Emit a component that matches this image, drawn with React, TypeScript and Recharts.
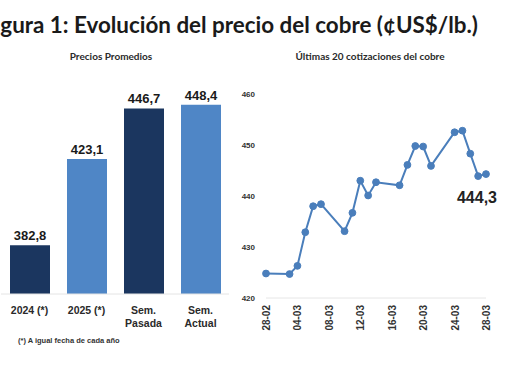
import React from "react";
import {
  BarChart,
  Bar,
  XAxis,
  YAxis,
  LabelList,
  Cell,
  LineChart,
  Line,
} from "recharts";

// ---- Data ----
const barCategories = ["2024 (*)", "2025 (*)", "Sem.\nPasada", "Sem.\nActual"];
const barValues = [382.8, 423.1, 446.7, 448.4];
const barColors = ["#1b365f", "#4f86c6", "#1b365f", "#4f86c6"];

const quoteDates = [
  "28-02", "03-03", "04-03", "05-03", "06-03", "07-03",
  "10-03", "11-03", "12-03", "13-03", "14-03",
  "17-03", "18-03", "19-03", "20-03", "21-03",
  "24-03", "25-03", "26-03", "27-03", "28-03",
];
const quoteValues = [
  424.8, 424.7, 426.3, 432.9, 438.0, 438.4,
  433.1, 436.7, 443.0, 440.1, 442.7,
  442.1, 446.1, 449.8, 449.7, 445.9,
  452.5, 452.8, 448.3, 443.9, 444.3,
];
const dateTickLabels = ["28-02", "04-03", "08-03", "12-03", "16-03", "20-03", "24-03", "28-03"];
const lineYTicks = [420, 430, 440, 450, 460];

// ---- helpers ----
const YEAR = 2025;
const dayOf = (s: string) => {
  const [d, m] = s.split("-").map(Number);
  return Date.UTC(YEAR, m - 1, d) / 86400000;
};
const day0 = dayOf(quoteDates[0]);

const barData = barCategories.map((c, i) => ({ name: c, value: barValues[i] }));
const lineData = quoteDates.map((d, i) => ({ x: dayOf(d) - day0, label: d, value: quoteValues[i] }));
const dateTicks = dateTickLabels.map((d) => dayOf(d) - day0);

const fmt = (v: number) => v.toFixed(1).replace(".", ",");

const NUM_FONT = "'Liberation Sans', Arial, sans-serif";
const TXT_FONT = "Lato, 'Open Sans', sans-serif";

const BarTick = (props: any) => {
  const { x, y, payload } = props;
  const lines = String(payload.value).split("\n");
  return (
    <text x={x} y={y} textAnchor="middle" fontFamily={NUM_FONT} fontWeight={700} fontSize={10.5} fill="#2a2a2a">
      {lines.map((l, i) => (
        <tspan key={i} x={x} dy={i === 0 ? 20 : 13}>
          {l}
        </tspan>
      ))}
    </text>
  );
};

const DateTick = (props: any) => {
  const { x, y, payload } = props;
  const idx = dateTicks.indexOf(payload.value);
  const label = idx >= 0 ? dateTickLabels[idx] : "";
  return (
    <text
      x={x + 4}
      y={y + 7}
      transform={`rotate(-90 ${x + 4} ${y + 7})`}
      textAnchor="end"
      fontFamily={NUM_FONT}
      fontWeight={700}
      fontSize={10}
      fill="#333"
    >
      {label}
    </text>
  );
};

const LastLabel = (props: any) => {
  const { x, y, index, value } = props;
  if (index !== quoteValues.length - 1) return null;
  return (
    <text x={x + 11} y={y + 29} textAnchor="end" fontFamily={NUM_FONT} fontWeight={700} fontSize={16} fill="#222">
      {fmt(value)}
    </text>
  );
};

export default function App() {
  return (
    <div
      style={{
        position: "fixed",
        left: 0,
        top: 0,
        width: 510,
        height: 382,
        background: "#fff",
        overflow: "hidden",
      }}
    >
      <div
        style={{
          position: "absolute",
          right: 32,
          top: 10,
          whiteSpace: "nowrap",
          fontFamily: TXT_FONT,
          fontWeight: 700,
          fontSize: 22.4,
          color: "#1a1a1a",
          lineHeight: "30px",
        }}
      >
        Figura 1: Evolución del precio del cobre (¢US$/lb.)
      </div>
      <div
        style={{
          position: "absolute",
          left: 0,
          width: 222,
          top: 50,
          textAlign: "center",
          fontFamily: TXT_FONT,
          fontWeight: 700,
          fontSize: 10,
          color: "#2a2a2a",
        }}
      >
        Precios Promedios
      </div>
      <div
        style={{
          position: "absolute",
          left: 270,
          width: 200,
          top: 50,
          textAlign: "center",
          fontFamily: TXT_FONT,
          fontWeight: 700,
          fontSize: 10,
          color: "#2a2a2a",
        }}
      >
        Últimas 20 cotizaciones del cobre
      </div>

      <div style={{ position: "absolute", left: 0, top: 0 }}>
        <BarChart
          width={230}
          height={360}
          data={barData}
          margin={{ top: 80, right: 1, left: 1, bottom: 0 }}
        >
          <XAxis
            dataKey="name"
            height={66}
            tickLine={false}
            tickSize={0}
            tickMargin={0}
            axisLine={{ stroke: "#e4e4e4" }}
            tick={<BarTick />}
            interval={0}
          />
          <YAxis hide domain={[360, 460]} allowDataOverflow />
          <Bar dataKey="value" barSize={40} isAnimationActive={false}>
            {barData.map((_, i) => (
              <Cell key={i} fill={barColors[i]} />
            ))}
            <LabelList
              dataKey="value"
              position="top"
              offset={5}
              formatter={(v: any) => fmt(Number(v))}
              style={{ fontFamily: NUM_FONT, fontWeight: 700, fontSize: 13, fill: "#1a1a1a" }}
            />
          </Bar>
        </BarChart>
      </div>

      <div
        style={{
          position: "absolute",
          left: 18,
          top: 336,
          whiteSpace: "nowrap",
          fontFamily: NUM_FONT,
          fontWeight: 700,
          fontSize: 7.5,
          color: "#333",
        }}
      >
        (*) A igual fecha de cada año
      </div>

      <div style={{ position: "absolute", left: 240, top: 0 }}>
        <LineChart
          width={270}
          height={382}
          data={lineData}
          margin={{ top: 94, right: 24, left: 2, bottom: 34 }}
        >
          <XAxis
            dataKey="x"
            type="number"
            domain={[0, 28]}
            ticks={dateTicks}
            height={50}
            tickLine={false}
            tickSize={0}
            tickMargin={0}
            axisLine={{ stroke: "#e6e6e6" }}
            tick={<DateTick />}
            interval={0}
          />
          <YAxis
            domain={[420, 460]}
            ticks={lineYTicks}
            width={24}
            axisLine={false}
            tickLine={false}
            tickSize={0}
            tickMargin={11}
            tick={{ fontFamily: NUM_FONT, fontWeight: 700, fontSize: 8, fill: "#333" }}
          />
          <Line
            dataKey="value"
            stroke="#4a7ebb"
            strokeWidth={2}
            dot={{ r: 3.4, fill: "#4a7ebb", stroke: "#4a7ebb", strokeWidth: 1 }}
            isAnimationActive={false}
          >
            <LabelList dataKey="value" content={<LastLabel />} />
          </Line>
        </LineChart>
      </div>
    </div>
  );
}
